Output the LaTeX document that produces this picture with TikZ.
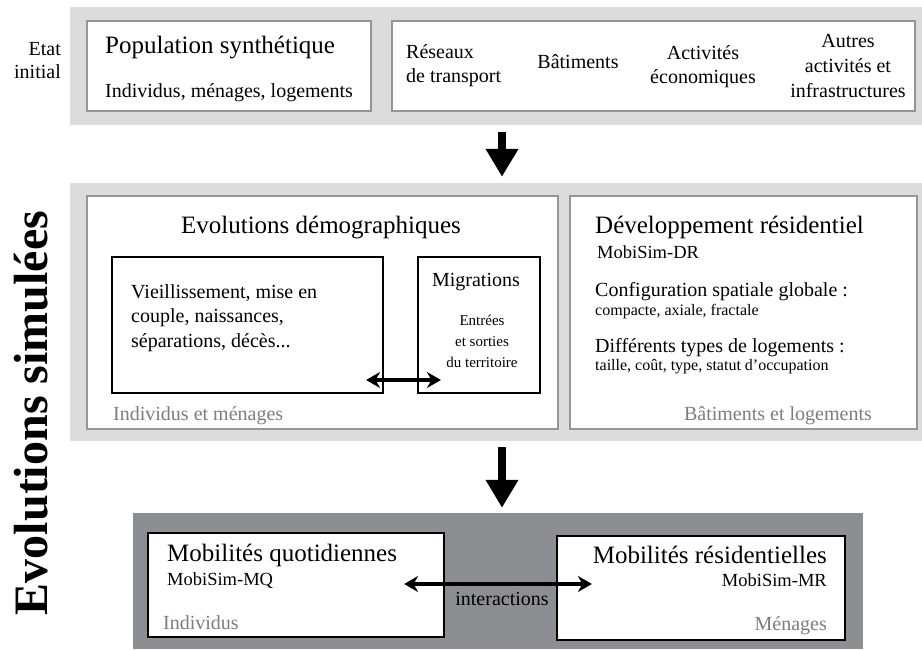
\documentclass[tikz,border=0pt]{standalone}
\usepackage{fontspec}
\setmainfont{Liberation Serif}
\usetikzlibrary{arrows.meta}
\definecolor{bandgray}{RGB}{220,220,220}
\definecolor{darkband}{RGB}{140,142,145}
\definecolor{framegray}{RGB}{150,150,150}
\definecolor{notegray}{RGB}{125,125,125}

\tikzset{
  band/.style={fill=bandgray, inner sep=0pt},
  mobband/.style={fill=darkband, inner sep=0pt},
  panel/.style={draw=framegray, line width=1.2pt, fill=white, inner sep=0pt},
  blackbox/.style={draw=black, line width=2.2pt, fill=white, inner sep=0pt},
  headtxt/.style={font=\fontsize{25}{30}\selectfont, inner sep=0pt},
  bodytxt/.style={font=\fontsize{20}{24}\selectfont, inner sep=0pt},
  modtxt/.style={font=\fontsize{18.5}{22}\selectfont, inner sep=0pt},
  smalltxt/.style={font=\fontsize{16}{19}\selectfont, inner sep=0pt},
  tinytxt/.style={font=\fontsize{15}{21}\selectfont, inner sep=0pt},
  notetxt/.style={bodytxt, text=notegray},
  bigarrow/.style={line width=8pt, -{Triangle[width=31pt,length=28pt]}},
  twoway/.style={line width=3.4pt, {Stealth[length=14pt,width=16pt]}-{Stealth[length=14pt,width=16pt]}},
}

\begin{document}
\begin{tikzpicture}[x=1pt, y=-1pt]
\useasboundingbox (0,0) rectangle (922,649);

% Etat initial
\node[band, minimum width=852pt, minimum height=118pt] (etat) at (496,66) {};
\node[panel, minimum width=284pt, minimum height=90pt] (pop) at (229,66) {};
\node[panel, minimum width=523pt, minimum height=90pt] (ctx) at (653.5,66) {};
\node[bodytxt, font=\fontsize{20}{23}\selectfont, align=right, anchor=base east] (etatlbl) at (61,78) {Etat\\initial};
\node[headtxt, anchor=base west] (poptitle) at (105,53) {Population synthétique};
\node[bodytxt, anchor=base west] (popsub) at (105,97) {Individus, ménages, logements};
\node[bodytxt, align=left, anchor=base west] (reseaux) at (406,82) {Réseaux\\de transport};
\node[bodytxt, anchor=base] (batim) at (578,68) {Bâtiments};
\node[bodytxt, align=center, anchor=base] (activ) at (703,83) {Activités\\économiques};
\node[bodytxt, font=\fontsize{20}{25}\selectfont, align=center, anchor=base] (autres) at (848,97) {Autres\\activités et\\infrastructures};

% Evolutions simulees
\node[band, minimum width=852pt, minimum height=258pt] (evol) at (496,312) {};
\node[panel, minimum width=471pt, minimum height=233pt] (demo) at (322.5,312.5) {};
\node[panel, minimum width=347pt, minimum height=233pt] (devres) at (743.5,312.5) {};
\node[blackbox, minimum width=271pt, minimum height=136pt] (vieil) at (247.5,325) {};
\node[blackbox, minimum width=122pt, minimum height=136pt] (migr) at (479,325) {};
\node[headtxt, anchor=base] (demotitle) at (321,233) {Evolutions démographiques};
\node[bodytxt, font=\fontsize{20}{24.5}\selectfont, align=left, anchor=base west] (vieiltxt) at (131,347)
  {Vieillissement, mise en\\couple, naissances,\\séparations, décès...};
\node[bodytxt, anchor=base] (migrtitle) at (476,286) {Migrations};
\node[tinytxt, align=center, anchor=base] (migrtxt) at (482,367) {Entrées\\et sorties\\du territoire};
\node[notetxt, anchor=base west] (demonote) at (113,420) {Individus et ménages};
\node[headtxt, anchor=base west] (devtitle) at (595,233) {Développement résidentiel};
\node[modtxt, anchor=base west] (devmod) at (597,258) {MobiSim-DR};
\node[bodytxt, anchor=base west] (config) at (595,296) {Configuration spatiale globale :};
\node[smalltxt, anchor=base west] (configsub) at (595,315) {compacte, axiale, fractale};
\node[bodytxt, anchor=base west] (types) at (595,352) {Différents types de logements :};
\node[smalltxt, anchor=base west] (typessub) at (595,370) {taille, coût, type, statut d’occupation};
\node[notetxt, anchor=base east] (devnote) at (872,420) {Bâtiments et logements};
\draw[twoway] ([xshift=-18pt,yshift=-55pt]vieil.east) -- ([xshift=24pt,yshift=-55pt]migr.west);

% Mobilites
\node[mobband, minimum width=730pt, minimum height=136pt] (mob) at (498,581) {};
\node[blackbox, minimum width=296pt, minimum height=104pt] (mq) at (296,585) {};
\node[blackbox, minimum width=288pt, minimum height=104pt] (mr) at (701,588) {};
\node[headtxt, anchor=base west] (mqtitle) at (167,561) {Mobilités quotidiennes};
\node[modtxt, anchor=base west] (mqmod) at (167,585) {MobiSim-MQ};
\node[notetxt, anchor=base west] (mqnote) at (163,629) {Individus};
\node[headtxt, anchor=base east] (mrtitle) at (827,563) {Mobilités résidentielles};
\node[modtxt, anchor=base east] (mrmod) at (827,586) {MobiSim-MR};
\node[notetxt, anchor=base east] (mrnote) at (827,630) {Ménages};
\draw[twoway] ([xshift=-41pt,yshift=1pt]mq.east) -- ([xshift=36pt,yshift=4pt]mr.west)
  node[bodytxt, midway, below=7pt, xshift=4pt] (inter) {interactions};

% Fleches entre les etapes
\draw[bigarrow] ([xshift=6pt,yshift=-7pt]etat.south) -- ([xshift=6pt,yshift=6pt]evol.north);
\draw[bigarrow] ([xshift=6pt,yshift=-6pt]evol.south) -- ([xshift=4pt,yshift=5pt]mob.north);

% Titre vertical
\node[font=\fontsize{48}{56}\selectfont\bfseries, rotate=90, anchor=base, inner sep=0pt] (simul) at (47,413) {Evolutions simulées};
\end{tikzpicture}
\end{document}
